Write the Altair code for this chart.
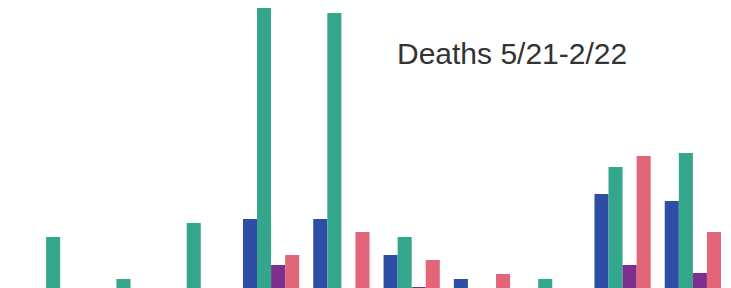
import altair as alt
import pandas as pd

groups = ["A", "B", "C", "D", "E", "F", "G", "H", "I", "J"]
series = ["S1", "S2", "S3", "S4"]
s1 = [0, 0, 0, 69, 69, 33, 9, 0, 94, 87]
s2 = [51, 9, 65, 300, 275, 51, 0, 9, 121, 135]
s3 = [0, 0, 0, 23, 0, 1, 0, 0, 23, 15]
s4 = [0, 0, 0, 33, 56, 28, 14, 0, 132, 56]
colors = ["#2E4EA6", "#33A68C", "#7D2F8F", "#E2657A"]
title_text = "Deaths 5/21-2/22"

rows = []
for name, vals in zip(series, [s1, s2, s3, s4]):
    for g, v in zip(groups, vals):
        rows.append({"group": g, "series": name, "value": v})
df = pd.DataFrame(rows)

bars = alt.Chart(df).mark_bar(clip=True).encode(
    x=alt.X("group:N", sort=groups, axis=None,
            scale=alt.Scale(paddingInner=0.2, paddingOuter=0.1855, align=0.923)),
    xOffset=alt.XOffset("series:N", sort=series,
                        scale=alt.Scale(paddingInner=0, paddingOuter=0)),
    y=alt.Y("value:Q", axis=None, scale=alt.Scale(domain=[0, 280], nice=False, zero=True)),
    color=alt.Color("series:N", legend=None,
                    scale=alt.Scale(domain=series, range=colors)),
)

label = alt.Chart(pd.DataFrame({"t": [title_text]})).mark_text(
    align="left", baseline="alphabetic", font="Liberation Sans",
    fontSize=30, color="#333333"
).encode(text="t:N", x=alt.value(389), y=alt.value(56))

chart = alt.layer(bars, label).properties(
    width=715, height=280,
    autosize=alt.AutoSizeParams(type="none"),
    padding=0,
).configure_view(stroke=None)

chart.save("out.html", embed_options={"renderer": "svg", "actions": False})
